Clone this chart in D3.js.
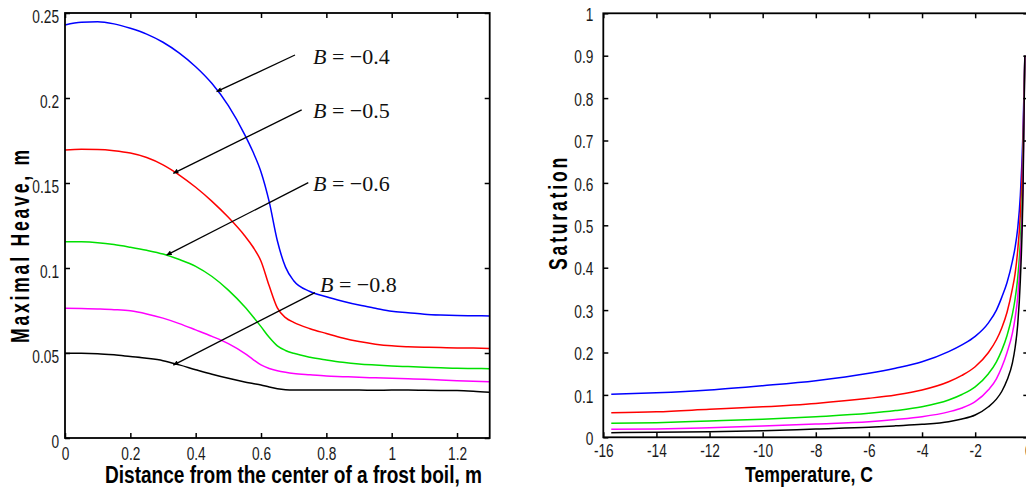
<!DOCTYPE html>
<html>
<head>
<meta charset="utf-8">
<script src="https://cdn.jsdelivr.net/npm/d3@7"></script>
<style>
  body { margin: 0; background: #fff; }
  svg { display: block; }
</style>
</head>
<body>
<svg id="chart" width="1026" height="493"></svg>
<script>
// ---------------- DATA ----------------
// Left panel: maximal heave vs distance from frost boil centre
const distance = [0, 0.05, 0.1, 0.15, 0.2, 0.25, 0.3, 0.35, 0.4, 0.45, 0.5, 0.55, 0.575, 0.6, 0.625, 0.65, 0.675, 0.7, 0.75, 0.8, 0.85, 0.9, 0.95, 1.0, 1.05, 1.1, 1.15, 1.2, 1.25, 1.3];
const heaveBlue    = [0.243, 0.2445, 0.2449, 0.2436, 0.2410, 0.2376, 0.2328, 0.2264, 0.2184, 0.2085, 0.1955, 0.1785, 0.1685, 0.1565, 0.139, 0.116, 0.1005, 0.0925, 0.0862, 0.0831, 0.0805, 0.0782, 0.0763, 0.0745, 0.0737, 0.0728, 0.0723, 0.072, 0.0719, 0.0718];
const heaveRed     = [0.1694, 0.1698, 0.1697, 0.1690, 0.1676, 0.1650, 0.1607, 0.1547, 0.1475, 0.1392, 0.1298, 0.1190, 0.1125, 0.1040, 0.0895, 0.0765, 0.0708, 0.0680, 0.0643, 0.0615, 0.0588, 0.0567, 0.0552, 0.0542, 0.0537, 0.0534, 0.0532, 0.0530, 0.0529, 0.0527];
const heaveGreen   = [0.1155, 0.1154, 0.1149, 0.1138, 0.1122, 0.1104, 0.1082, 0.1050, 0.1010, 0.0950, 0.0870, 0.0772, 0.0715, 0.0655, 0.0592, 0.0542, 0.0515, 0.0498, 0.0475, 0.0459, 0.0445, 0.0435, 0.0429, 0.0424, 0.0420, 0.0416, 0.0413, 0.0410, 0.0409, 0.0408];
const heaveMagenta = [0.0763, 0.0762, 0.0759, 0.0755, 0.0748, 0.0730, 0.0705, 0.0673, 0.0636, 0.0598, 0.0555, 0.0498, 0.0463, 0.0430, 0.0409, 0.0396, 0.0387, 0.0380, 0.0372, 0.0365, 0.0361, 0.0357, 0.0354, 0.0351, 0.0348, 0.0345, 0.0341, 0.0337, 0.0334, 0.0331];
const heaveBlack   = [0.0498, 0.0498, 0.0496, 0.0489, 0.0479, 0.0469, 0.0455, 0.0430, 0.0402, 0.0375, 0.0351, 0.0330, 0.0321, 0.0312, 0.0300, 0.0290, 0.0284, 0.0282, 0.0282, 0.0282, 0.0282, 0.0282, 0.0281, 0.0282, 0.0282, 0.0281, 0.0280, 0.0279, 0.0275, 0.0269];
const heaveSeries = [heaveBlue, heaveRed, heaveGreen, heaveMagenta, heaveBlack];

// Right panel: saturation vs temperature
const temperature = [-15.7, -14, -12, -10, -8, -6, -5, -4, -3, -2.5, -2, -1.5, -1.2, -1, -0.8, -0.6, -0.5, -0.4, -0.3, -0.2, -0.13];
const satBlue    = [0.1014, 0.105, 0.1116, 0.1217, 0.1335, 0.151, 0.163, 0.178, 0.202, 0.218, 0.238, 0.270, 0.300, 0.330, 0.365, 0.415, 0.447, 0.492, 0.570, 0.720, 0.90];
const satRed     = [0.058, 0.060, 0.066, 0.072, 0.080, 0.092, 0.100, 0.1116, 0.131, 0.146, 0.1665, 0.200, 0.230, 0.258, 0.295, 0.350, 0.385, 0.440, 0.525, 0.685, 0.90];
const satGreen   = [0.033, 0.0345, 0.0384, 0.0425, 0.0486, 0.0566, 0.063, 0.072, 0.088, 0.101, 0.119, 0.150, 0.178, 0.205, 0.240, 0.290, 0.325, 0.375, 0.460, 0.630, 0.90];
const satMagenta = [0.0189, 0.0197, 0.0227, 0.0267, 0.0314, 0.0368, 0.042, 0.0486, 0.0600, 0.069, 0.084, 0.112, 0.138, 0.165, 0.200, 0.245, 0.280, 0.330, 0.420, 0.600, 0.90];
const satBlack   = [0.011, 0.012, 0.0132, 0.0156, 0.0196, 0.0236, 0.027, 0.0307, 0.0368, 0.043, 0.0526, 0.072, 0.090, 0.108, 0.135, 0.175, 0.210, 0.265, 0.370, 0.580, 0.90];
const satSeries = [satBlue, satRed, satGreen, satMagenta, satBlack];

const seriesColors = ["#0000ff", "#ff0000", "#00e000", "#ff00ff", "#000000"];

// Tick labels
const distanceTicks = [0, 0.2, 0.4, 0.6, 0.8, 1, 1.2];
const heaveTicks = [0, 0.05, 0.1, 0.15, 0.2, 0.25];
const temperatureTicks = [-16, -14, -12, -10, -8, -6, -4, -2, 0];
const saturationTicks = [0, 0.1, 0.2, 0.3, 0.4, 0.5, 0.6, 0.7, 0.8, 0.9, 1];

// Annotations (data units of the left panel)
const annotLabels = ["\u22120.4", "\u22120.5", "\u22120.6", "\u22120.8"];
const annotTextX = [0.759, 0.759, 0.759, 0.7805];
const annotTextY = [0.220, 0.188, 0.1453, 0.0861];
const annotFromX = [0.704, 0.7245, 0.7447, 0.765];
const annotFromY = [0.2253, 0.193, 0.1502, 0.0855];
const annotToX = [0.464, 0.3315, 0.311, 0.3315];
const annotToY = [0.2037, 0.1557, 0.1076, 0.0429];

// ---------------- DRAWING ----------------
const svg = d3.select("#chart");
const SANS = "'Liberation Sans', Arial, Helvetica, sans-serif";
const SERIF = "'Liberation Serif', 'Times New Roman', serif";

const xL = d3.scaleLinear().domain([0, 1.3]).range([65, 489.7]);
const yL = d3.scaleLinear().domain([0, 0.25]).range([438, 13]);
const xR = d3.scaleLinear().domain([-16, 0]).range([603.3, 1028.3]);
const yR = d3.scaleLinear().domain([0, 1]).range([437.3, 13.3]);

function squeeze(sel, factor) {
  sel.each(function () {
    if (!this.textContent) return;
    const w = this.getComputedTextLength();
    this.setAttribute("textLength", w * factor);
    this.setAttribute("lengthAdjust", "spacingAndGlyphs");
  });
}

function styleAxis(g) {
  g.select(".domain").remove();
  g.selectAll(".tick line").attr("stroke", "#000").attr("stroke-width", 1.5);
  g.selectAll(".tick text")
    .attr("font-family", SANS)
    .attr("font-size", 18)
    .attr("fill", "#1a1a1a");
  squeeze(g.selectAll(".tick text"), 0.76);
}

function frame(x, y, xt, yt, pad, ypad, ydy) {
  const [x0, x1] = x.range();
  const [y0, y1] = y.range();
  const fmt = d => String(d);
  svg.append("g").attr("transform", `translate(0,${y0})`)
    .call(d3.axisBottom(x).tickValues(xt).tickFormat(fmt).tickSize(-5).tickSizeOuter(0).tickPadding(pad))
    .call(styleAxis);
  svg.append("g").attr("transform", `translate(0,${y1})`)
    .call(d3.axisTop(x).tickValues(xt).tickFormat("").tickSize(-5).tickSizeOuter(0))
    .call(styleAxis);
  svg.append("g").attr("transform", `translate(${x0},0)`)
    .call(d3.axisLeft(y).tickValues(yt).tickFormat(fmt).tickSize(-5).tickSizeOuter(0).tickPadding(ypad))
    .call(styleAxis)
    .selectAll(".tick text").attr("dy", ydy);
  svg.append("g").attr("transform", `translate(${x1},0)`)
    .call(d3.axisRight(y).tickValues(yt).tickFormat("").tickSize(-5).tickSizeOuter(0))
    .call(styleAxis);
  svg.append("rect")
    .attr("x", x0).attr("y", y1)
    .attr("width", x1 - x0).attr("height", y0 - y1)
    .attr("fill", "none").attr("stroke", "#000").attr("stroke-width", 1.8);
}

// Left panel curves
const lineL = d3.line().x(d => xL(d[0])).y(d => yL(d[1])).curve(d3.curveMonotoneX);
heaveSeries.forEach((vals, i) => {
  svg.append("path")
    .attr("d", lineL(distance.map((d, j) => [d, vals[j]])))
    .attr("fill", "none").attr("stroke", seriesColors[i]).attr("stroke-width", 1.5);
});

// Right panel curves
const lineR = d3.line().x(d => xR(d[0])).y(d => yR(d[1])).curve(d3.curveMonotoneX);
satSeries.forEach((vals, i) => {
  svg.append("path")
    .attr("d", lineR(temperature.map((d, j) => [d, vals[j]])))
    .attr("fill", "none").attr("stroke", seriesColors[i]).attr("stroke-width", 1.5);
});

frame(xL, yL, distanceTicks, heaveTicks, 9, 6, "0.5em");
frame(xR, yR, temperatureTicks, saturationTicks, 7, 10, "0.4em");

// Arrow marker
svg.append("defs").append("marker")
  .attr("id", "arrowhead")
  .attr("viewBox", "0 0 10 10")
  .attr("refX", 10).attr("refY", 5)
  .attr("markerWidth", 7).attr("markerHeight", 5)
  .attr("markerUnits", "userSpaceOnUse")
  .attr("orient", "auto")
  .append("path").attr("d", "M0,0L10,5L0,10z").attr("fill", "#000");

annotLabels.forEach((lab, i) => {
  svg.append("line")
    .attr("x1", xL(annotFromX[i])).attr("y1", yL(annotFromY[i]))
    .attr("x2", xL(annotToX[i])).attr("y2", yL(annotToY[i]))
    .attr("stroke", "#000").attr("stroke-width", 1.3)
    .attr("marker-end", "url(#arrowhead)");
  const t = svg.append("text")
    .attr("x", xL(annotTextX[i])).attr("y", yL(annotTextY[i]))
    .attr("font-family", SERIF).attr("font-size", 22).attr("fill", "#111");
  t.append("tspan").attr("font-style", "italic").text("B");
  t.append("tspan").text(" = " + lab);
});

// Axis titles
function title(text, x, y, width, rotate, size, spacing) {
  return svg.append("text")
    .attr("transform", `translate(${x},${y})` + (rotate ? " rotate(-90)" : ""))
    .attr("text-anchor", "middle")
    .attr("font-family", SANS).attr("font-weight", "bold")
    .attr("font-size", size).attr("fill", "#000")
    .attr("letter-spacing", spacing)
    .attr("textLength", width).attr("lengthAdjust", "spacingAndGlyphs")
    .text(text);
}
title("Distance from the center of a frost boil, m", 293.5, 483.3, 377, false, 23, 0);
title("Temperature, C", 809, 481.5, 128, false, 22.5, 0);
title("Maximal Heave, m", 29.3, 245, 196, true, 25, 4);
title("Saturation", 566.7, 212.5, 115, true, 25, 4);
</script>
</body>
</html>
